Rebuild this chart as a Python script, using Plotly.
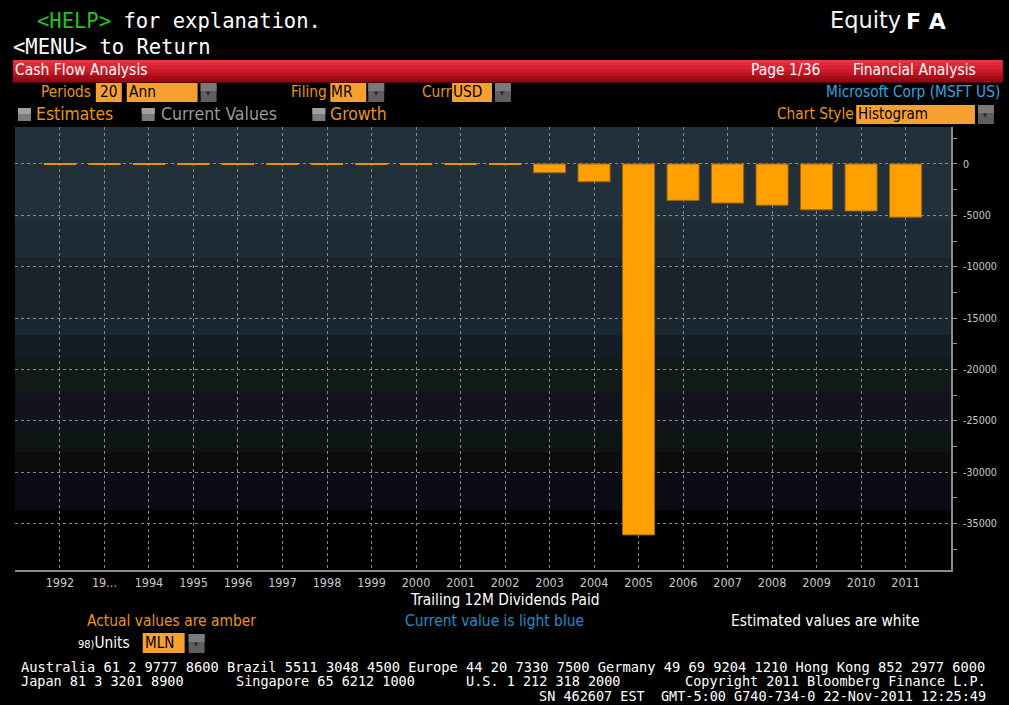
import plotly.graph_objects as go

# ---------------- data ----------------
years = ["1992", "1993", "1994", "1995", "1996", "1997", "1998", "1999", "2000", "2001",
         "2002", "2003", "2004", "2005", "2006", "2007", "2008", "2009", "2010", "2011"]
year_labels = ["1992", "19...", "1994", "1995", "1996", "1997", "1998", "1999", "2000", "2001",
               "2002", "2003", "2004", "2005", "2006", "2007", "2008", "2009", "2010", "2011"]
dividends_paid = [0, 0, 0, 0, 0, 0, 0, 0, 0, 0,
                  0, -857, -1729, -36112, -3545, -3805, -4015, -4468, -4578, -5180]
y_ticks = [0, -5000, -10000, -15000, -20000, -25000, -30000, -35000]
y_tick_labels = ["0", "-5000", "-10000", "-15000", "-20000", "-25000", "-30000", "-35000"]

# ---------------- geometry helpers ----------------
W, H = 1009, 705
L, R, T, B = 15, 56, 127, 135
PW, PH = W - L - R, H - T - B


def fx(px):
    return (px - L) / PW


def fy(py):
    return (H - B - py) / PH


AMBER = "#e8960e"
BOX = "#f7a030"
SANS = "DejaVu Sans Condensed, DejaVu Sans, sans-serif"
REG = "DejaVu Sans, sans-serif"
MONO = "DejaVu Sans Mono, monospace"

shapes = []
annotations = []


def rect(x0, y0, x1, y1, color, layer="above", line=None):
    d = dict(type="rect", xref="paper", yref="paper", x0=fx(x0), x1=fx(x1),
             y0=fy(y0), y1=fy(y1), fillcolor=color, layer=layer,
             line=dict(width=0) if line is None else line)
    shapes.append(d)


def txt(s, px, py, size, color, font=SANS, anchor="left"):
    annotations.append(dict(text=s, x=fx(px), y=fy(py), xref="paper", yref="paper",
                            xanchor=anchor, yanchor="middle", showarrow=False,
                            borderpad=0,
                            font=dict(size=size, color=color, family=font)))


def dropdown(x0, y0):
    rect(x0, y0, x0 + 16, y0 + 19, "#5e5e5e")
    rect(x0, y0, x0 + 16, y0 + 8, "#7a7a7a")
    txt("▾", x0 + 8, y0 + 10, 9, "#2a2a2a", anchor="center")


def checkbox(x0, yc):
    rect(x0, yc - 6, x0 + 13, yc + 7, "#7c7c7c")
    rect(x0, yc - 6, x0 + 13, yc, "#a0a0a0")


# ---------------- chart background bands ----------------
bands = [(127, 221, "#22303a"), (221, 258, "#1e2b34"), (258, 317, "#1a232c"),
         (317, 335, "#1b2730"), (335, 358, "#131b25"), (358, 393, "#111a19"),
         (393, 430, "#13131d"), (430, 452, "#0c1512"), (452, 473, "#0c0c0c"),
         (473, 510, "#0a0b15")]
for y0, y1, c in bands:
    rect(L, y0, W - R, y1, c, layer="below")

# ---------------- header ----------------
txt("<span style='color:#1fc41f'>&lt;HELP&gt;</span> for explanation.", 36, 21, 20.5, "#ffffff", MONO)
txt("&lt;MENU&gt; to Return", 12, 47, 20.5, "#ffffff", MONO)
txt("Equity", 831, 20, 22.5, "#f4f4f4", REG)
txt("<b>F\u00a0A</b>", 907, 21, 22, "#ffffff", REG)

# red title bar (gradient by stripes)
reds = ["#ea3443", "#e22a3a", "#d82232", "#cc1a2a", "#bc1322", "#a80c1a", "#980814"]
step = 22 / len(reds)
for i, c in enumerate(reds):
    rect(13, 60 + i * step, 1005, 60 + (i + 1) * step + 0.5, c)
txt("Cash Flow Analysis", 14, 70, 15.5, "#ffffff")
txt("Page 1/36", 752, 70, 15.5, "#ffffff")
txt("Financial Analysis", 854, 70, 15.5, "#ffffff")

# row 1
RS = 15.3
txt("Periods", 40, 92, RS, AMBER)
rect(96, 83, 122, 102, BOX)
txt("20", 99, 92, RS, "#000000")
rect(127, 83, 198, 102, BOX)
txt("Ann", 128, 92, RS, "#000000")
dropdown(201, 83)
txt("Filing", 291, 92, RS, AMBER)
rect(331, 83, 367, 102, BOX)
txt("MR", 331, 92, RS, "#000000")
dropdown(369, 83)
txt("Curr", 422, 92, RS, AMBER)
rect(453, 83, 493, 102, BOX)
txt("USD", 453, 92, RS, "#000000")
dropdown(496, 83)
txt("Microsoft Corp (MSFT US)", 1003, 92, RS, "#2aa8e0", anchor="right")

# row 2
checkbox(18, 114)
txt("Estimates", 35, 114, 17.4, AMBER)
checkbox(142, 114)
txt("Current Values", 160, 114, 17.6, "#9a9a9a")
checkbox(313, 114)
txt("Growth", 330, 114, 17.4, AMBER)
txt("Chart Style", 778, 114, RS, AMBER)
rect(858, 105, 977, 124, BOX)
txt("Histogram", 859, 114, 15, "#000000")
dropdown(980, 105)

# ---------------- footer ----------------
txt("Trailing 12M Dividends Paid", 506, 600, 15.3, "#ffffff", anchor="center")
txt("Actual values are amber", 86, 621, 15.4, AMBER)
txt("Current value is light blue", 405, 621, 15.4, "#1b8fd0")
txt("Estimated values are white", 732, 621, 15.4, "#ffffff")
txt("<span style='font-size:11px'>98)</span>Units", 77, 643, 15.3, "#ffffff")
rect(143, 633, 185, 653, BOX)
txt("MLN", 144, 643, 15, "#000000")
dropdown(189, 634)

FS = 13.5
txt("Australia 61 2 9777 8600 Brazil 5511 3048 4500 Europe 44 20 7330 7500 Germany 49 69 9204 1210 Hong Kong 852 2977 6000",
    20, 667, 13.7, "#ffffff", MONO)
txt("Japan 81 3 3201 8900", 20, 681, FS, "#ffffff", MONO)
txt("Singapore 65 6212 1000", 235, 681, FS, "#ffffff", MONO)
txt("U.S. 1 212 318 2000", 466, 681, FS, "#ffffff", MONO)
txt("Copyright 2011 Bloomberg Finance L.P.", 989, 681, FS, "#ffffff", MONO, anchor="right")
txt("SN 462607 EST  GMT-5:00 G740-734-0 22-Nov-2011 12:25:49", 989, 695.5, FS, "#ffffff", MONO, anchor="right")

# ---------------- traces ----------------
fig = go.Figure()
fig.add_trace(go.Bar(
    x=years, y=dividends_paid, width=0.72,
    marker=dict(color="#ffa000", line=dict(color="#9a6418", width=1)),
    hoverinfo="x+y", showlegend=False,
))
zero_years = [y for y, v in zip(years, dividends_paid) if v == 0]
fig.add_trace(go.Scatter(
    x=zero_years, y=[0] * len(zero_years), mode="markers",
    marker=dict(symbol="line-ew", size=23, line=dict(color="#e8900c", width=2)),
    hoverinfo="skip", showlegend=False,
))
# axis flags at the y ticks
fig.add_trace(go.Scatter(
    x=[1.006] * len(y_ticks), y=y_ticks, xaxis="x2", mode="markers", cliponaxis=False,
    marker=dict(symbol="triangle-right", size=8, color="#ececec"),
    hoverinfo="skip", showlegend=False,
))

fig.update_layout(
    width=W, height=H,
    margin=dict(l=L, r=R, t=T, b=B, pad=0),
    paper_bgcolor="#000000", plot_bgcolor="#000000",
    shapes=shapes, annotations=annotations,
    xaxis=dict(
        type="category", categoryorder="array", categoryarray=years,
        tickmode="array", tickvals=years, ticktext=year_labels,
        range=[-1.01, 20.02], showgrid=True, gridcolor="#858a90", griddash="dot", gridwidth=1,
        showline=True, linecolor="#8c8c8c", linewidth=2, ticks="",
        tickfont=dict(size=12.5, color="#c8c8c8", family=SANS), zeroline=False,
        fixedrange=True,
    ),
    xaxis2=dict(overlaying="x", range=[0, 1], visible=False, fixedrange=True),
    yaxis=dict(
        side="right", range=[-39530, 3600],
        tickmode="array", tickvals=y_ticks, ticktext=y_tick_labels,
        showgrid=True, gridcolor="#858a90", griddash="dot", gridwidth=1,
        zeroline=False, showline=True, linecolor="#8c8c8c", linewidth=2,
        ticks="", ticklabelstandoff=8,
        tickfont=dict(size=10.6, color="#c8c8c8", family=SANS),
        minor=dict(dtick=2500, tick0=0, ticks="outside", ticklen=4,
                   tickcolor="#9a9a9a", showgrid=False),
        fixedrange=True,
    ),
    font=dict(family=SANS, color="#ffffff"),
)

fig.write_html(
    "out.html",
    config={"displayModeBar": False},
    post_script="document.body.style.margin='0';document.body.style.background='#000';"
                "document.documentElement.style.background='#000';",
)
